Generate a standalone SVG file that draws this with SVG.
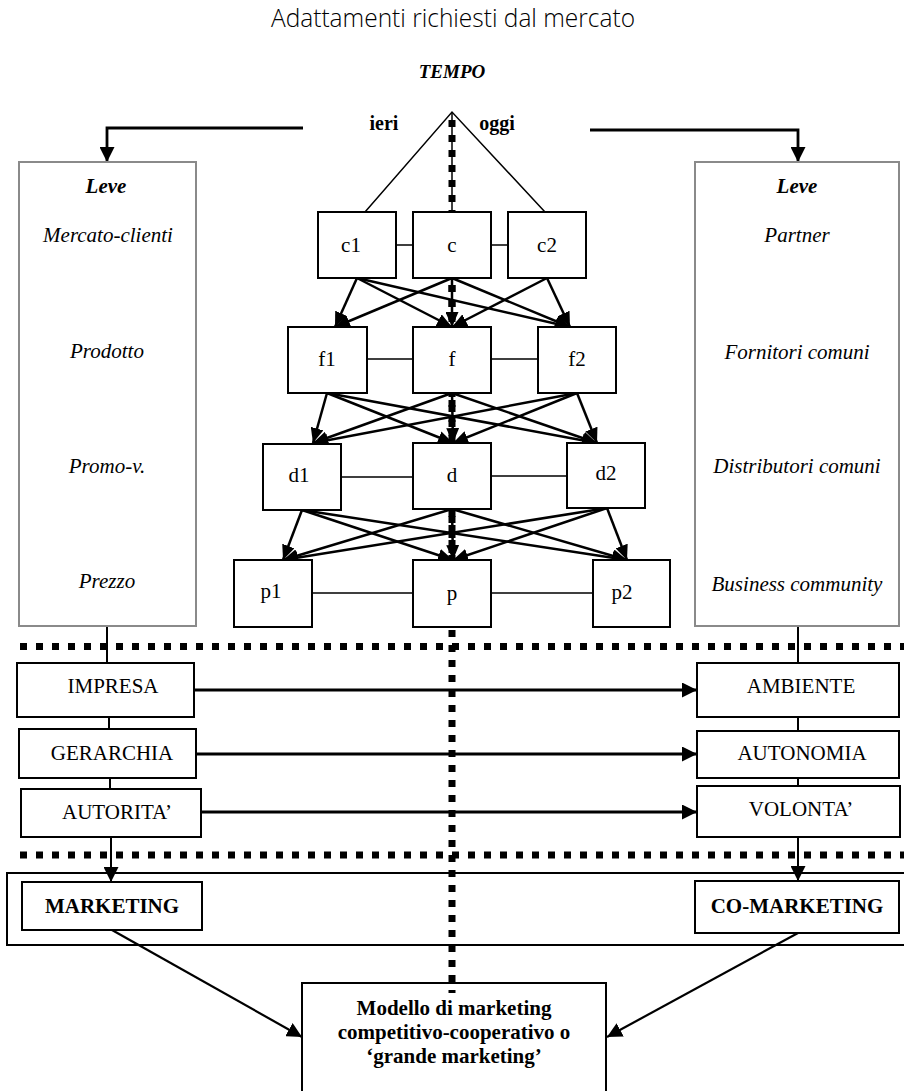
<svg xmlns="http://www.w3.org/2000/svg" width="904" height="1091" viewBox="0 0 904 1091">
<defs>
<style>
.t{font-family:"Liberation Serif","Times New Roman",serif;font-size:21px;fill:#000;text-anchor:middle}
.i{font-style:italic}
.b{font-weight:bold}
.box{fill:#fff;stroke:#000;stroke-width:2}
.panel{fill:none;stroke:#8a8a8a;stroke-width:2}
.ln{fill:none;stroke:#000;stroke-width:1.5}
.ar{fill:none;stroke:#000;stroke-width:2.5;marker-end:url(#an)}
.ab{fill:none;stroke:#000;stroke-width:2.8;marker-end:url(#ah)}
.dot{fill:none;stroke:#000;stroke-width:7}
</style>
<marker id="an" markerUnits="userSpaceOnUse" markerWidth="15" markerHeight="13" refX="15" refY="6.5" orient="auto"><path d="M0,0 L15,6.5 L0,13 z" fill="#000"/></marker>
<marker id="ah" markerUnits="userSpaceOnUse" markerWidth="15" markerHeight="15" refX="15" refY="7.5" orient="auto"><path d="M0,0 L15,7.5 L0,15 z" fill="#000"/></marker>
</defs>
<rect width="904" height="1091" fill="#fff"/>

<text x="453" y="27" font-family="'Open Sans',sans-serif" font-weight="300" font-size="25" text-anchor="middle" textLength="364" lengthAdjust="spacingAndGlyphs">Adattamenti richiesti dal mercato</text>
<text class="t i b" x="452" y="78" style="font-size:19px">TEMPO</text>
<text class="t b" x="384" y="130" style="font-size:20px">ieri</text>
<text class="t b" x="497" y="130" style="font-size:20px">oggi</text>

<g id="dotted-lines">
<path class="dot" d="M452,120 V993" stroke-dasharray="7 8"/>
<path class="dot" d="M20,646.5 H904" stroke-dasharray="7 9"/>
<path class="dot" d="M20,855 H904" stroke-dasharray="7 9"/>
</g>

<g id="connectors">
<path class="ab" d="M303,128 H107 V162"/>
<path class="ab" d="M590,130 H798 V162"/>
<path class="ln" d="M365,212 L452,112 L545,212"/>
<path class="ln" d="M452,112 V212"/>
<path class="ln" d="M396,245 H413 M491,245 H508"/>
<path class="ln" d="M367,359 H413 M491,359 H538"/>
<path class="ln" d="M341,477 H413 M491,476 H567"/>
<path class="ln" d="M312,593 H413 M491,593 H593"/>
<path class="ar" d="M357,278 L335,327"/>
<path class="ar" d="M357,278 L452,327"/>
<path class="ar" d="M357,278 L570,327"/>
<path class="ar" d="M452,278 L335,327"/>
<path class="ar" d="M452,278 L452,327"/>
<path class="ar" d="M452,278 L570,327"/>
<path class="ar" d="M547,278 L452,327"/>
<path class="ar" d="M547,278 L570,327"/>
<path class="ar" d="M327,393 L313,443"/>
<path class="ar" d="M327,393 L453,443"/>
<path class="ar" d="M327,393 L597,443"/>
<path class="ar" d="M452,393 L313,443"/>
<path class="ar" d="M452,393 L453,443"/>
<path class="ar" d="M452,393 L597,443"/>
<path class="ar" d="M577,393 L313,443"/>
<path class="ar" d="M577,393 L453,443"/>
<path class="ar" d="M577,393 L597,443"/>
<path class="ar" d="M302,510 L283,560"/>
<path class="ar" d="M302,510 L453,560"/>
<path class="ar" d="M302,510 L627,560"/>
<path class="ar" d="M452,509 L283,560"/>
<path class="ar" d="M452,509 L453,560"/>
<path class="ar" d="M452,509 L627,560"/>
<path class="ar" d="M607,508 L283,560"/>
<path class="ar" d="M607,508 L453,560"/>
<path class="ar" d="M607,508 L627,560"/>
<path class="ln" d="M107,626 V663 M109,717 V729 M110,778 V789" style="stroke-width:2"/>
<path class="ln" d="M798,626 V663 M798,717 V731 M798,778 V786" style="stroke-width:2"/>
<path class="ab" d="M111,837 V882" style="stroke-width:2"/>
<path class="ab" d="M798,837 V881" style="stroke-width:2"/>
<path class="ab" d="M194,690 H697"/>
<path class="ab" d="M196,754 H697"/>
<path class="ab" d="M201,812 H697"/>
<path class="ab" d="M112,930 L302,1037" style="stroke-width:2.2"/>
<path class="ab" d="M798,933 L607,1037" style="stroke-width:2.2"/>
</g>

<g id="panel-left">
<rect class="panel" x="19" y="162" width="177" height="464"/>
<text class="t i b" x="106" y="193">Leve</text>
<text class="t i" x="108" y="242">Mercato-clienti</text>
<text class="t i" x="107" y="358">Prodotto</text>
<text class="t i" x="107" y="473">Promo-v.</text>
<text class="t i" x="107" y="588">Prezzo</text>
</g>
<g id="panel-right">
<rect class="panel" x="695" y="162" width="204" height="464"/>
<text class="t i b" x="797" y="193">Leve</text>
<text class="t i" x="797" y="242">Partner</text>
<text class="t i" x="797" y="359">Fornitori comuni</text>
<text class="t i" x="797" y="473">Distributori comuni</text>
<text class="t i" x="797" y="591">Business community</text>
</g>

<g id="node-c1"><rect class="box" x="318" y="212" width="78" height="66"/><text class="t" x="351" y="252">c1</text></g>
<g id="node-c"><rect class="box" x="413" y="212" width="78" height="66"/><text class="t" x="452" y="252">c</text></g>
<g id="node-c2"><rect class="box" x="508" y="212" width="78" height="66"/><text class="t" x="547" y="252">c2</text></g>
<g id="node-f1"><rect class="box" x="288" y="327" width="79" height="66"/><text class="t" x="327" y="366">f1</text></g>
<g id="node-f"><rect class="box" x="413" y="327" width="78" height="66"/><text class="t" x="452" y="366">f</text></g>
<g id="node-f2"><rect class="box" x="538" y="327" width="78" height="66"/><text class="t" x="577" y="366">f2</text></g>
<g id="node-d1"><rect class="box" x="263" y="444" width="78" height="66"/><text class="t" x="299" y="482">d1</text></g>
<g id="node-d"><rect class="box" x="413" y="443" width="78" height="66"/><text class="t" x="452" y="482">d</text></g>
<g id="node-d2"><rect class="box" x="567" y="443" width="78" height="65"/><text class="t" x="606" y="480">d2</text></g>
<g id="node-p1"><rect class="box" x="234" y="560" width="78" height="67"/><text class="t" x="271" y="598">p1</text></g>
<g id="node-p"><rect class="box" x="413" y="560" width="78" height="67"/><text class="t" x="452" y="600">p</text></g>
<g id="node-p2"><rect class="box" x="593" y="560" width="77" height="67"/><text class="t" x="622" y="599">p2</text></g>

<g id="center-dots-over">
<path class="dot" d="M452,285 V320 M452,400 V436 M452,516 V553" stroke-dasharray="7 8"/>
</g>

<g id="node-impresa"><rect class="box" x="17" y="663" width="177" height="54"/><text class="t" x="113" y="693">IMPRESA</text></g>
<g id="node-gerarchia"><rect class="box" x="19" y="729" width="177" height="49"/><text class="t" x="112" y="760">GERARCHIA</text></g>
<g id="node-autorita"><rect class="box" x="21" y="789" width="180" height="48"/><text class="t" x="117" y="819">AUTORITA’</text></g>
<g id="node-ambiente"><rect class="box" x="697" y="663" width="202" height="54"/><text class="t" x="801" y="693">AMBIENTE</text></g>
<g id="node-autonomia"><rect class="box" x="697" y="731" width="202" height="47"/><text class="t" x="802" y="760">AUTONOMIA</text></g>
<g id="node-volonta"><rect class="box" x="697" y="786" width="203" height="51"/><text class="t" x="801" y="816">VOLONTA’</text></g>

<g id="group-marketing">
<rect x="7" y="873" width="905" height="72" fill="none" stroke="#000" stroke-width="2"/>
</g>
<g id="node-marketing"><rect class="box" x="22" y="882" width="180" height="48"/><text class="t b" x="112" y="913">MARKETING</text></g>
<g id="node-comarketing"><rect class="box" x="695" y="881" width="204" height="52"/><text class="t b" x="797" y="913">CO-MARKETING</text></g>

<g id="node-modello">
<rect x="302" y="983" width="304" height="120" fill="none" stroke="#000" stroke-width="2"/>
<text class="t b" x="454" y="1015">Modello di marketing</text>
<text class="t b" x="454" y="1039">competitivo-cooperativo o</text>
<text class="t b" x="454" y="1063">‘grande marketing’</text>
</g>
</svg>
